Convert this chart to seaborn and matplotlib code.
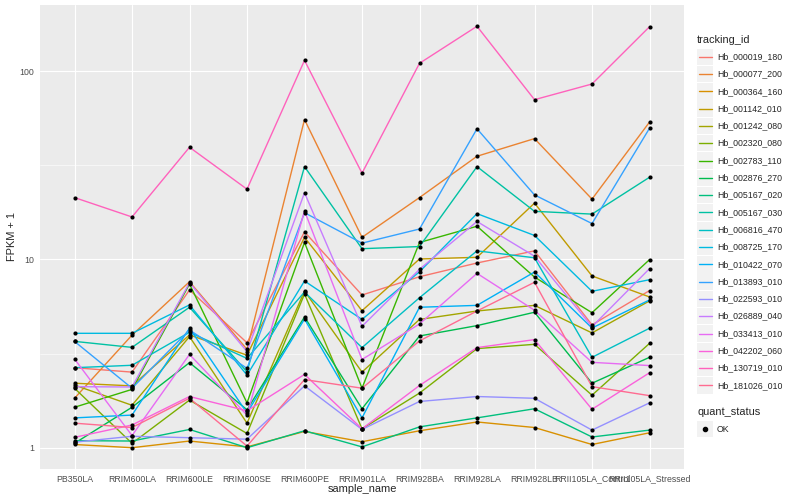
import numpy as np
import pandas as pd
import matplotlib
matplotlib.use("Agg")
import matplotlib.pyplot as plt
import seaborn as sns
from matplotlib.patches import Rectangle
from matplotlib.lines import Line2D
from matplotlib.ticker import FixedLocator, NullFormatter

samples = ["PB350LA", "RRIM600LA", "RRIM600LE", "RRIM600SE", "RRIM600PE",
           "RRIM901LA", "RRIM928BA", "RRIM928LA", "RRIM928LB",
           "RRII105LA_Control", "RRII105LA_Stressed"]

tracking_ids = ["Hb_000019_180", "Hb_000077_200", "Hb_000364_160", "Hb_001142_010",
                "Hb_001242_080", "Hb_002320_080", "Hb_002783_110", "Hb_002876_270",
                "Hb_005167_020", "Hb_005167_030", "Hb_006816_470", "Hb_008725_170",
                "Hb_010422_070", "Hb_013893_010", "Hb_022593_010", "Hb_026889_040",
                "Hb_033413_010", "Hb_042202_060", "Hb_130719_010", "Hb_181026_010"]

palette = ["#F8766D", "#EA8331", "#D89000", "#C09B00", "#A3A500", "#7CAE00",
           "#39B600", "#00BB4E", "#00BF7D", "#00C1A3", "#00BFC4", "#00BAE0",
           "#00B0F6", "#35A2FF", "#9590FF", "#C77CFF", "#E76BF3", "#FA62DB",
           "#FF62BC", "#FF6C91"]

# FPKM values per gene, in the order of `samples`
fpkm_000019_180 = [1.66, 1.52, 5.88, 2.61, 13.0, 5.47, 7.09, 8.57, 10.1, 3.49, 5.83]
fpkm_000077_200 = [0.83, 2.96, 6.61, 2.33, 54.3, 12.1, 20.3, 34.3, 42.8, 19.9, 52.6]
fpkm_000364_160 = [0.04, 0.0, 0.085, 0.01, 0.22, 0.076, 0.23, 0.37, 0.28, 0.04, 0.20]
fpkm_001142_010 = [1.20, 1.13, 2.97, 2.10, 12.1, 4.34, 9.05, 9.26, 18.9, 7.17, 5.32]
fpkm_001242_080 = [1.15, 0.68, 2.89, 0.35, 5.79, 1.52, 3.80, 4.32, 4.70, 3.07, 5.02]
fpkm_002320_080 = [1.07, 0.055, 0.79, 0.19, 5.55, 0.26, 0.95, 2.36, 2.54, 0.90, 2.58]
fpkm_002783_110 = [0.64, 1.04, 6.40, 0.73, 11.3, 1.07, 11.3, 14.0, 7.06, 4.21, 8.97]
fpkm_002876_270 = [0.055, 0.64, 1.83, 0.59, 3.95, 0.61, 2.92, 3.45, 4.24, 1.20, 2.02]
fpkm_005167_020 = [0.09, 0.085, 0.25, 0.0, 0.23, 0.01, 0.29, 0.44, 0.61, 0.14, 0.24]
fpkm_005167_030 = [2.67, 2.41, 4.57, 1.53, 30.1, 10.4, 10.7, 30.1, 17.0, 16.4, 26.3]
fpkm_006816_470 = [1.66, 1.74, 3.10, 1.98, 5.71, 2.40, 5.26, 10.1, 9.2, 2.02, 3.31]
fpkm_008725_170 = [3.05, 3.05, 4.73, 1.43, 6.68, 3.80, 7.60, 16.5, 12.4, 5.77, 6.80]
fpkm_010422_070 = [0.44, 0.49, 3.31, 0.53, 3.82, 0.44, 4.57, 4.70, 7.57, 3.32, 5.09]
fpkm_013893_010 = [2.67, 1.07, 3.22, 1.64, 16.7, 11.2, 13.5, 48.4, 21.0, 14.5, 48.7]
fpkm_022593_010 = [0.07, 0.15, 0.13, 0.11, 1.13, 0.25, 0.76, 0.87, 0.83, 0.24, 0.73]
fpkm_026889_040 = [1.11, 1.10, 6.52, 2.24, 21.6, 3.41, 7.86, 14.9, 9.4, 3.39, 7.93]
fpkm_033413_010 = [1.96, 0.16, 2.13, 0.49, 17.1, 1.94, 3.54, 7.43, 4.37, 1.84, 1.73]
fpkm_042202_060 = [0.135, 0.32, 0.87, 0.57, 1.45, 0.26, 1.14, 2.40, 2.75, 0.60, 1.50]
fpkm_130719_010 = [20.3, 15.8, 38.4, 22.6, 113.0, 27.7, 109.0, 172.0, 69.5, 84.4, 171.0]
fpkm_181026_010 = [0.35, 0.28, 0.83, 0.02, 1.30, 1.07, 2.69, 4.32, 6.56, 1.11, 0.89]

series = [fpkm_000019_180, fpkm_000077_200, fpkm_000364_160, fpkm_001142_010,
          fpkm_001242_080, fpkm_002320_080, fpkm_002783_110, fpkm_002876_270,
          fpkm_005167_020, fpkm_005167_030, fpkm_006816_470, fpkm_008725_170,
          fpkm_010422_070, fpkm_013893_010, fpkm_022593_010, fpkm_026889_040,
          fpkm_033413_010, fpkm_042202_060, fpkm_130719_010, fpkm_181026_010]

rows = []
for tid, vals in zip(tracking_ids, series):
    for i, (s, v) in enumerate(zip(samples, vals)):
        rows.append({"tracking_id": tid, "sample_name": s, "pos": i,
                     "fpkm": v, "quant_status": "OK"})
df = pd.DataFrame(rows)
df["fpkm1"] = df["fpkm"] + 1

sns.set_style("white")
plt.rcParams["font.family"] = ["Liberation Sans", "DejaVu Sans"]

W, H = 800, 500
fig = plt.figure(figsize=(8, 5), dpi=100)
fig.patch.set_facecolor("white")
left, right, top, bottom = 40, 684, 5, 468.7
ax = fig.add_axes([left / W, 1 - bottom / H, (right - left) / W, (bottom - top) / H])
ax.set_facecolor("#EBEBEB")
ax.set_yscale("log")

sns.lineplot(data=df, x="pos", y="fpkm1", hue="tracking_id", hue_order=tracking_ids,
             palette=palette, estimator=None, sort=True, legend=False,
             linewidth=1.0, ax=ax)
sns.scatterplot(data=df, x="pos", y="fpkm1", color="black", s=9, linewidth=0,
                legend=False, ax=ax, zorder=5)

ax.set_xlim(-0.6, len(samples) - 1 + 0.6)
ax.set_ylim(10 ** -0.1115, 10 ** 2.351)
ax.set_xticks(range(len(samples)))
ax.set_xticklabels(samples)
ax.yaxis.set_major_locator(FixedLocator([1, 10, 100]))
ax.set_yticklabels(["1", "10", "100"])
ax.yaxis.set_minor_locator(FixedLocator([10 ** 0.5, 10 ** 1.5]))
ax.yaxis.set_minor_formatter(NullFormatter())
ax.tick_params(axis="both", which="major", length=2.8, width=0.8, color="#333333",
               labelcolor="#4D4D4D", labelsize=6.3, pad=1.5)
ax.tick_params(axis="y", which="minor", length=0)
ax.grid(which="major", color="white", linewidth=0.8)
ax.grid(which="minor", axis="y", color="white", linewidth=0.4)
ax.set_axisbelow(True)
for sp in ax.spines.values():
    sp.set_visible(False)
ax.set_xlabel("")
ax.set_ylabel("")

fig.text(12 / W, 1 - (top + bottom) / 2 / H, "FPKM + 1", rotation=90,
         ha="center", va="center", fontsize=7.9)
fig.text(362 / W, 1 - 488.5 / H, "sample_name", ha="center", va="center", fontsize=7.9)

# legend: tracking_id
def fx(x):
    return x / W

def fy(y):
    return 1 - y / H

fig.text(fx(697), fy(40), "tracking_id", ha="left", va="center", fontsize=7.9)
step = 17.3
for i, (tid, col) in enumerate(zip(tracking_ids, palette)):
    yc = 56.7 + step * i
    fig.add_artist(Rectangle((fx(697), fy(yc + 8.2)), 16 / W, 16.4 / H,
                             transform=fig.transFigure, facecolor="#F2F2F2",
                             edgecolor="none"))
    fig.add_artist(Line2D([fx(698.5), fx(711.5)], [fy(yc), fy(yc)],
                          transform=fig.transFigure, color=col, linewidth=1.0))
    fig.text(fx(717), fy(yc), tid, ha="left", va="center", fontsize=6.3)

# legend: quant_status
fig.text(fx(697), fy(412), "quant_status", ha="left", va="center", fontsize=7.9)
yc = 429
fig.add_artist(Rectangle((fx(697), fy(yc + 8.2)), 16 / W, 16.4 / H,
                         transform=fig.transFigure, facecolor="#F2F2F2",
                         edgecolor="none"))
fig.add_artist(Line2D([fx(705)], [fy(yc)], transform=fig.transFigure, color="black",
                      marker="o", markersize=3, linestyle="none"))
fig.text(fx(717), fy(yc), "OK", ha="left", va="center", fontsize=6.3)

fig.savefig("out.png", dpi=100)
